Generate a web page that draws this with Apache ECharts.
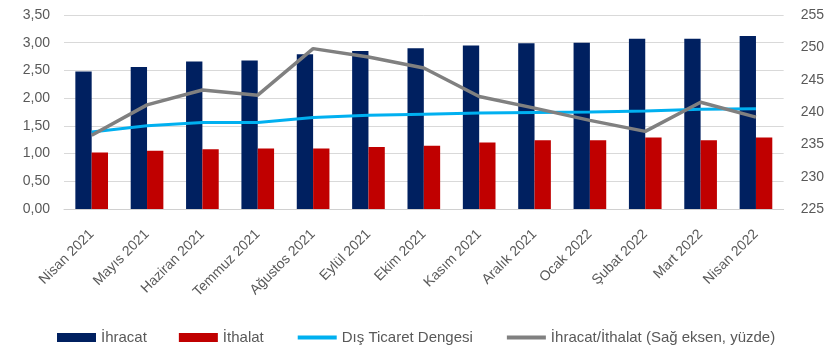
<!DOCTYPE html>
<html><head><meta charset="utf-8">
<script src="https://cdn.jsdelivr.net/npm/echarts@6/dist/echarts.min.js"></script>
<style>html,body{margin:0;padding:0;background:#fff}#c{width:827px;height:349px}</style>
</head><body><div id="c"></div>
<script>
const categories = ["Nisan 2021","Mayıs 2021","Haziran 2021","Temmuz 2021","Ağustos 2021","Eylül 2021","Ekim 2021","Kasım 2021","Aralık 2021","Ocak 2022","Şubat 2022","Mart 2022","Nisan 2022"];
const ihracat = [2.48,2.56,2.66,2.68,2.79,2.85,2.90,2.95,2.99,3.00,3.07,3.07,3.12];
const ithalat = [1.02,1.05,1.08,1.09,1.09,1.12,1.14,1.20,1.24,1.24,1.29,1.24,1.29];
const denge = [1.39,1.50,1.56,1.56,1.65,1.69,1.71,1.73,1.74,1.75,1.77,1.80,1.81];
const oran = [236.4,241.1,243.4,242.6,249.8,248.5,246.8,242.4,240.6,238.7,237.0,241.5,239.2];
const leftTicks = {min:0,max:3.5,interval:0.5};
const rightTicks = {min:225,max:255,interval:5};

const FONT = '"Liberation Sans",Arial,sans-serif';
const TXT = '#595959';
const chart = echarts.init(document.getElementById('c'), null, {renderer:'canvas'});
chart.setOption({
  animation:false,
  textStyle:{fontFamily:FONT},
  grid:{left:64,right:39,top:15,bottom:140,containLabel:false},
  legend:{
    top:325,left:52,itemGap:32,itemWidth:39,itemHeight:9,
    textStyle:{color:TXT,fontSize:15,fontFamily:FONT},
    data:[
      {name:'İhracat',icon:'rect'},
      {name:'İthalat',icon:'rect'},
      {name:'Dış Ticaret Dengesi',itemStyle:{opacity:0},lineStyle:{width:4}},
      {name:'İhracat/İthalat (Sağ eksen, yüzde)',itemStyle:{opacity:0},lineStyle:{width:4}}
    ]
  },
  xAxis:{
    type:'category',data:categories,
    axisLine:{lineStyle:{color:'#d0d0d0',width:1}},
    axisTick:{show:false},
    axisLabel:{rotate:45,color:TXT,fontSize:14,margin:23,fontFamily:FONT,interval:0}
  },
  yAxis:[
    {type:'value',min:leftTicks.min,max:leftTicks.max,interval:leftTicks.interval,
     axisLine:{show:false},axisTick:{show:false},
     splitLine:{lineStyle:{color:'#d9d9d9',width:1}},
     axisLabel:{color:TXT,fontSize:14,margin:14,fontFamily:FONT,
       formatter:v=>v.toFixed(2).replace('.',',')}},
    {type:'value',min:rightTicks.min,max:rightTicks.max,interval:rightTicks.interval,
     axisLine:{show:false},axisTick:{show:false},splitLine:{show:false},
     axisLabel:{color:TXT,fontSize:14,margin:17,fontFamily:FONT}}
  ],
  series:[
    {name:'İhracat',type:'bar',data:ihracat,itemStyle:{color:'#002060'},barGap:'0%',barCategoryGap:'41%'},
    {name:'İthalat',type:'bar',data:ithalat,itemStyle:{color:'#c00000'}},
    {name:'Dış Ticaret Dengesi',type:'line',data:denge,symbol:'none',
     lineStyle:{color:'#00b0f0',width:3},itemStyle:{color:'#00b0f0'}},
    {name:'İhracat/İthalat (Sağ eksen, yüzde)',type:'line',yAxisIndex:1,data:oran,symbol:'none',
     lineStyle:{color:'#808080',width:3.5},itemStyle:{color:'#808080'}}
  ]
});
</script></body></html>
